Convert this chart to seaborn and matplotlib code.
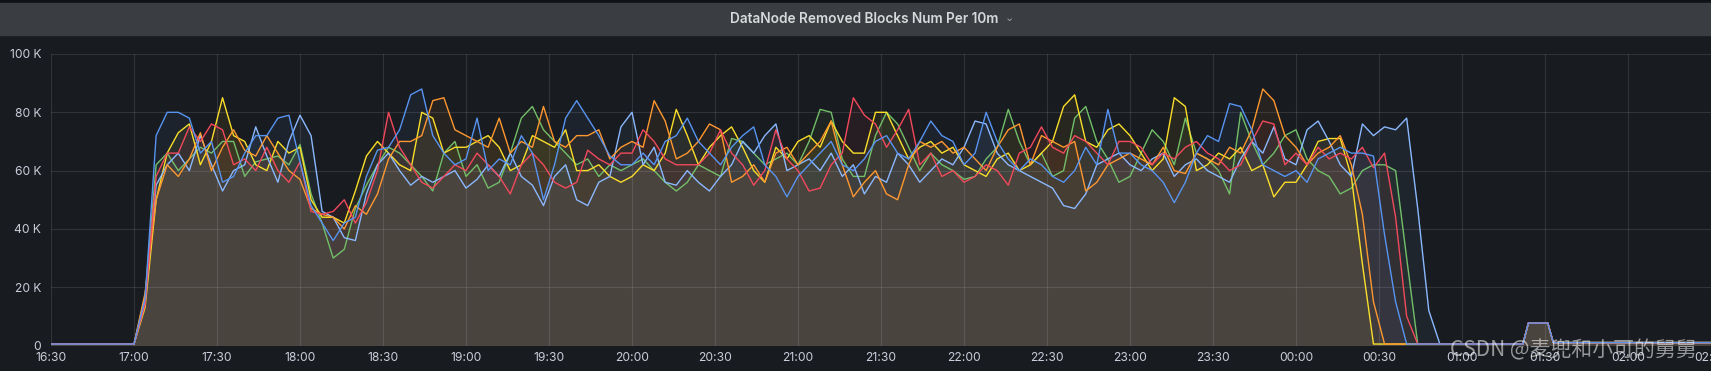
import pandas as pd
import matplotlib
matplotlib.use("Agg")
import matplotlib.pyplot as plt
import matplotlib.dates as mdates
from matplotlib.patches import Rectangle
from matplotlib.ticker import FuncFormatter
import seaborn as sns

# removed blocks (thousands), one reading every 4 min from 17:00 to 00:52
blue_k = [0.5, 16, 72, 80, 80, 78, 66, 70, 56, 58, 66, 72, 72, 78, 79,
          63, 48, 42, 36, 42, 44, 58, 67, 68, 74, 86, 88, 72, 66, 62,
          64, 78, 60, 64, 62, 72, 66, 50, 62, 78, 84, 78, 72, 65, 62,
          62, 66, 62, 70, 72, 78, 70, 66, 62, 68, 72, 75, 62, 58, 51,
          58, 62, 66, 70, 62, 60, 64, 70, 72, 66, 64, 70, 77, 72, 70,
          62, 66, 80, 70, 64, 60, 64, 62, 58, 56, 60, 68, 62, 81, 66,
          66, 62, 60, 56, 49, 56, 66, 72, 70, 83, 82, 74, 62, 60, 58,
          60, 56, 64, 66, 68, 66, 66, 65, 38, 15, 0.5, 0.5, 0.5, 0.5]
lightblue_k = [0.5, 15, 55, 62, 66, 60, 72, 62, 53, 60, 62, 75, 65, 56, 70,
               79, 72, 46, 44, 37, 36, 52, 62, 66, 60, 55, 58, 56, 58, 60,
               54, 57, 62, 58, 66, 58, 55, 48, 58, 62, 50, 48, 56, 58, 75,
               80, 62, 68, 56, 55, 60, 56, 53, 58, 62, 70, 66, 72, 76, 60,
               62, 64, 60, 66, 58, 62, 52, 58, 56, 66, 62, 56, 60, 64, 62,
               68, 77, 76, 66, 62, 60, 58, 56, 54, 48, 47, 52, 62, 64, 66,
               62, 60, 64, 66, 58, 62, 64, 60, 58, 56, 64, 70, 66, 75, 64,
               62, 74, 77, 70, 62, 58, 76, 72, 75, 74, 78, 47, 12, 0.5]
red_k = [0.5, 14, 58, 66, 66, 75, 70, 76, 74, 62, 64, 60, 68, 60, 56,
         63, 46, 45, 46, 50, 42, 49, 60, 80, 68, 62, 56, 54, 58, 62,
         60, 66, 62, 58, 52, 62, 66, 62, 56, 54, 56, 67, 64, 62, 66,
         66, 74, 70, 64, 62, 62, 62, 66, 74, 66, 62, 55, 60, 74, 64,
         60, 53, 54, 62, 66, 85, 79, 76, 68, 74, 81, 62, 66, 58, 60,
         56, 58, 62, 60, 55, 66, 68, 75, 68, 66, 72, 70, 66, 62, 70,
         70, 68, 62, 66, 64, 68, 70, 66, 64, 60, 62, 70, 77, 76, 62,
         66, 62, 68, 64, 66, 64, 68, 61, 66, 44, 10, 0.5, 0.5, 0.5]
orange_k = [0.5, 18, 50, 62, 58, 64, 73, 60, 68, 74, 67, 65, 72, 66, 60,
            57, 47, 45, 44, 40, 48, 45, 52, 64, 70, 70, 72, 84, 85, 74,
            72, 70, 68, 78, 66, 70, 68, 82, 70, 68, 72, 72, 74, 64, 68,
            70, 68, 84, 77, 64, 66, 70, 76, 74, 56, 58, 62, 56, 66, 68,
            62, 66, 70, 77, 62, 51, 56, 60, 52, 50, 62, 70, 68, 70, 66,
            68, 64, 60, 68, 74, 76, 62, 72, 70, 68, 70, 53, 56, 62, 64,
            66, 64, 62, 68, 60, 59, 66, 64, 62, 68, 66, 74, 88, 84, 72,
            68, 62, 66, 68, 72, 62, 45, 15, 0.5, 0.5, 0.5, 0.5, 0.5, 0.5]
yellow_k = [0.5, 13, 50, 66, 73, 76, 62, 70, 85, 72, 70, 62, 60, 70, 66,
            68, 50, 44, 44, 42, 53, 65, 70, 66, 62, 60, 80, 78, 66, 68,
            68, 70, 72, 68, 60, 62, 72, 70, 68, 74, 60, 60, 62, 58, 56,
            58, 62, 60, 66, 81, 72, 62, 68, 72, 75, 68, 60, 56, 68, 64,
            70, 72, 68, 77, 70, 66, 66, 80, 80, 72, 64, 68, 70, 66, 68,
            62, 60, 58, 64, 66, 60, 62, 66, 70, 82, 86, 70, 68, 74, 76,
            72, 66, 60, 64, 85, 82, 60, 62, 66, 64, 68, 60, 62, 51, 56,
            56, 62, 70, 71, 71, 58, 28, 0.5, 0.5, 0.5, 0.5, 0.5, 0.5, 0.5]
green_k = [0.5, 17, 62, 66, 60, 64, 68, 66, 70, 70, 58, 63, 64, 65, 62,
           69, 52, 42, 30, 33, 47, 55, 62, 68, 66, 62, 58, 53, 66, 70,
           58, 62, 54, 56, 66, 78, 82, 74, 70, 66, 62, 64, 58, 62, 60,
           62, 64, 60, 56, 53, 56, 62, 60, 58, 71, 70, 66, 62, 64, 66,
           62, 70, 81, 80, 64, 58, 58, 72, 80, 76, 68, 60, 66, 62, 60,
           57, 58, 64, 68, 81, 70, 62, 66, 58, 60, 78, 82, 70, 64, 56,
           58, 66, 74, 70, 62, 78, 66, 64, 60, 52, 80, 70, 62, 66, 72,
           74, 64, 60, 58, 52, 54, 60, 62, 62, 60, 30, 0.5, 0.5, 0.5]

# flat start and the small bump after the run, shared by all nodes
head_times = ["2022-01-01 16:30"]
head_k = [0.5]
tail_times = ["2022-01-02 00:56", "2022-01-02 01:22", "2022-01-02 01:24",
              "2022-01-02 01:31", "2022-01-02 01:33", "2022-01-02 02:30"]
tail_k = [0.5, 0.5, 7.7, 7.7, 1.0, 1.0]

series_names = ["green", "yellow", "light blue", "orange", "red", "blue"]
series_values = [green_k, yellow_k, lightblue_k, orange_k, red_k, blue_k]
series_colors = ["#73BF69", "#FADE2A", "#8AB8FF", "#FF9830", "#F2495C", "#5794F2"]

grid_times = pd.date_range("2022-01-01 17:00", periods=len(blue_k), freq="4min")
times = list(pd.to_datetime(head_times)) + list(grid_times) + list(pd.to_datetime(tail_times))

frames = []
for name, vals in zip(series_names, series_values):
    frames.append(pd.DataFrame({
        "time": times,
        "value": [v * 1000 for v in head_k + vals + tail_k],
        "series": name,
    }))
df = pd.concat(frames, ignore_index=True)

bg = "#181b1f"
text_col = "#ccccdc"

sns.set_theme(style="dark")
plt.rcParams["font.family"] = ["Inter", "DejaVu Sans"]

W, H = 1711, 371
fig = plt.figure(figsize=(W / 100, H / 100), dpi=100, facecolor=bg)

# panel header bar
fig.patches.append(Rectangle((0, 1 - 3 / H), 1, 3 / H, transform=fig.transFigure,
                             color="#111217", zorder=0))
fig.patches.append(Rectangle((0, 1 - 35 / H), 1, 32 / H, transform=fig.transFigure,
                             color="#3a3d42", zorder=0))
fig.text(864 / W, 1 - 19 / H, "DataNode Removed Blocks Num Per 10m", ha="center", va="center",
         color="#d8d9da", fontsize=9.8, fontweight="semibold")
fig.text(1009 / W, 1 - 18 / H, "⌄", ha="center", va="center", color="#9fa0a6",
         fontsize=8, family=["DejaVu Sans"])

left, bottom = 51 / W, (H - 345.5) / H
ax = fig.add_axes([left, bottom, 1 - left, (345.5 - 54) / H])
ax.set_facecolor(bg)

palette = dict(zip(series_names, series_colors))
for name in series_names:
    sub = df[df["series"] == name]
    ax.fill_between(sub["time"], sub["value"], 0, color=palette[name], alpha=0.065,
                    linewidth=0, zorder=1)
sns.lineplot(data=df, x="time", y="value", hue="series", palette=palette,
             estimator=None, linewidth=1.0, legend=False, ax=ax, zorder=3)

ax.set_xlim(pd.Timestamp("2022-01-01 16:30"), pd.Timestamp("2022-01-02 02:30"))
ax.set_ylim(0, 100000)
ax.set_yticks([0, 20000, 40000, 60000, 80000, 100000])
ax.yaxis.set_major_formatter(FuncFormatter(lambda v, p: "0" if v == 0 else f"{int(v / 1000)} K"))
ax.xaxis.set_major_locator(mdates.MinuteLocator(byminute=[0, 30]))
ax.xaxis.set_major_formatter(mdates.DateFormatter("%H:%M"))

ax.grid(True, color=text_col, alpha=0.14, linewidth=0.8)
ax.set_axisbelow(False)
for line in ax.get_xgridlines() + ax.get_ygridlines():
    line.set_zorder(2)
for s in ax.spines.values():
    s.set_visible(False)

ax.tick_params(axis="y", length=4, width=0.8, color="#3d3f44", pad=3, labelsize=8.7,
               labelcolor=text_col)
ax.tick_params(axis="x", length=0, pad=5, labelsize=8.7, labelcolor=text_col)
ax.set_xlabel("")
ax.set_ylabel("")

fig.text(1697 / W, (H - 350) / H, "CSDN @麦兜和小可的舅舅", ha="right", va="center",
         color="white", alpha=0.55, fontsize=15,
         family=["Noto Sans CJK SC", "DejaVu Sans"])

fig.savefig("out.png", dpi=100, facecolor=bg)
